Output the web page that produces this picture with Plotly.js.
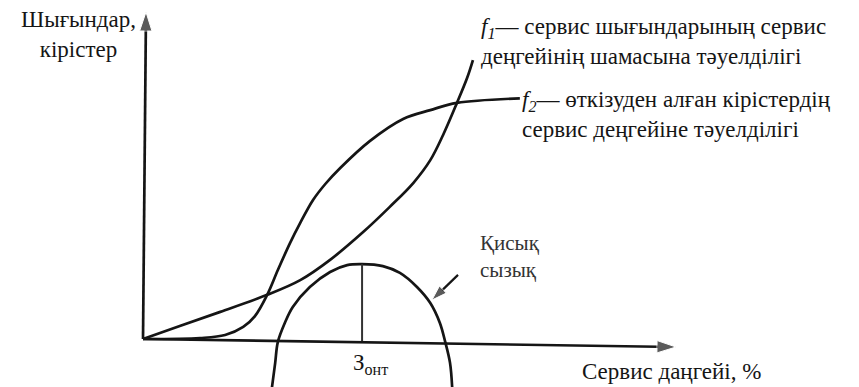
<!DOCTYPE html>
<html>
<head>
<meta charset="utf-8">
<script src="https://cdn.plot.ly/plotly-3.0.1.min.js"></script>
<style>html,body{margin:0;padding:0;background:#fff;}#chart{width:859px;height:387px;}</style>
</head>
<body>
<div id="chart"></div>
<script>
// f1 — service cost vs service level
const f1X = [0, 6.9, 14.5, 23.3, 29.5, 35.1, 41.3, 46.3, 50.7, 53.9, 56.3, 58.9, 60.8, 61.9];
const f1Y = [0, 4.0, 8.3, 13.5, 18.0, 24.2, 32.7, 40.4, 47.7, 54.7, 62.4, 72.2, 79.8, 85.3];
// f2 — revenue vs service level
const f2X = [0, 10.7, 15.4, 18.8, 21.0, 23.3, 25.3, 27.6, 29.5, 31.9, 34.2, 37.0, 42.6, 48.8, 53.9, 58.9, 70.7];
const f2Y = [0, 0.3, 1.2, 3.7, 7.0, 13.5, 21.1, 29.4, 35.5, 42.5, 47.4, 52.3, 60.6, 67.3, 70.0, 72.2, 73.6];
// "Қисық сызық" dome
const domeX = [24.2, 24.8, 25.3, 26.6, 28.1, 31.3, 35.1, 38.3, 41.1, 45.0, 48.2, 51.4, 53.9, 55.7, 56.7, 57.6, 58.0];
const domeY = [-14.7, -7.3, -0.9, 4.9, 9.8, 15.9, 20.5, 22.6, 22.9, 22.3, 20.2, 15.9, 11.0, 4.9, -0.9, -7.3, -14.7];
// optimum marker line
const optX = [41.1, 41.1];
const optY = [22.9, -0.8];
// axes
const xAxisX = [0, 100], xAxisY = [0, -2.45];
const yAxisX = [0, 0.56], yAxisY = [0, 100];
// pointer arrow to the dome
const ptrX = [59.1, 54.2], ptrY = [19.6, 11.9];

const yLabel = 'Шығындар,<br>кірістер';
const xLabel = 'Сервис даңгейі, %';
const f1Label = '<i>f<sub>1</sub></i>— сервис шығындарының сервис<br>деңгейінің шамасына тәуелділігі';
const f2Label = '<i>f<sub>2</sub></i>— өткізуден алған кірістердің<br>сервис деңгейіне тәуелділігі';
const domeLabel = 'Қисық<br>сызық';
const optLabel = 'З<sub>онт</sub>';

const ink = '#151515';
const W = 859, H = 387;
const P = x => x / W, Q = y => 1 - y / H;
const fam = 'Times New Roman, Liberation Serif, Tinos, DejaVu Serif';
const font = {family: fam, size: 23, color: ink};

const arrowTrace = (xs, ys, size, width) => ({
  x: xs, y: ys, mode: 'lines+markers', type: 'scatter',
  line: {color: ink, width: width},
  marker: {symbol: 'arrow', size: [0, size], angleref: 'previous', color: ink},
  hoverinfo: 'skip'
});

const traces = [
  {x: f1X, y: f1Y, mode: 'lines', line: {color: ink, width: 2.7, shape: 'spline', smoothing: 1}},
  {x: f2X, y: f2Y, mode: 'lines', line: {color: ink, width: 2.7, shape: 'spline', smoothing: 1}},
  {x: domeX, y: domeY, mode: 'lines', line: {color: ink, width: 2.7, shape: 'spline', smoothing: 1}},
  {x: optX, y: optY, mode: 'lines', line: {color: '#333', width: 2}},
  arrowTrace(xAxisX, xAxisY, 20, 2.7),
  arrowTrace(yAxisX, yAxisY, 20, 2.7),
  arrowTrace(ptrX, ptrY, 16, 2.2)
];

const ann = (text, x, y, xanchor, align, extra) => Object.assign({
  text: text, xref: 'paper', yref: 'paper', x: P(x), y: Q(y),
  xanchor: xanchor, yanchor: 'middle', align: align, showarrow: false, font: font
}, extra || {});

const layout = {
  width: W, height: H,
  margin: {l: 0, r: 0, t: 0, b: 0},
  paper_bgcolor: '#fff', plot_bgcolor: '#fff',
  font: {family: fam},
  showlegend: false,
  xaxis: {range: [-26.83, 134.33], visible: false, fixedrange: true},
  yaxis: {range: [-14.68, 103.67], visible: false, fixedrange: true},
  annotations: [
    ann(yLabel, 78, 35, 'center', 'center'),
    ann(f1Label, 479, 42, 'left', 'left'),
    ann(f2Label, 520, 115, 'left', 'left'),
    ann(domeLabel, 478, 256, 'left', 'left', {font: Object.assign({}, font, {color: '#333', size: 21})}),
    ann(optLabel, 351, 364, 'left', 'left'),
    ann(xLabel, 580, 371, 'left', 'left')
  ]
};

Plotly.newPlot('chart', traces, layout, {staticPlot: true, displayModeBar: false});
</script>
</body>
</html>
